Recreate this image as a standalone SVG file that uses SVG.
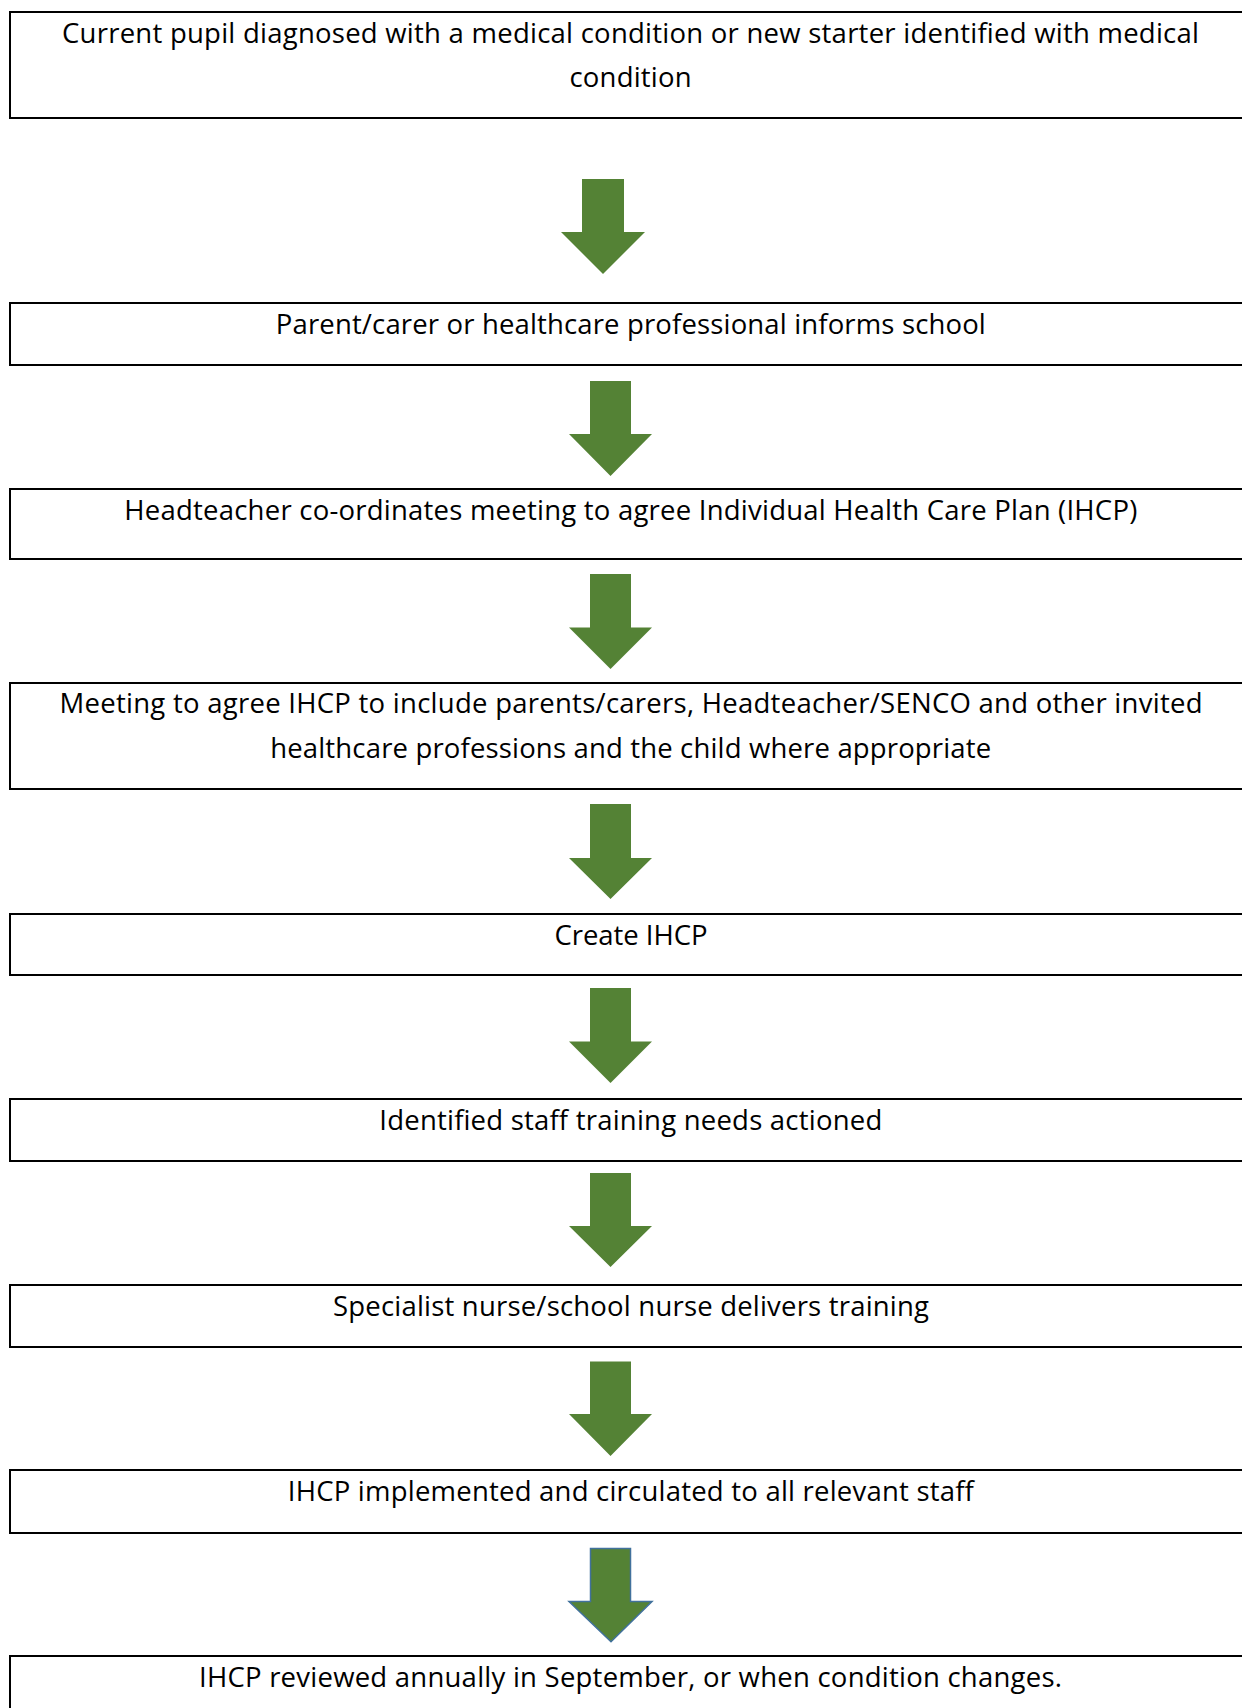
<svg xmlns="http://www.w3.org/2000/svg" width="1242" height="1708" viewBox="0 0 1242 1708">
<style>
.box{fill:#ffffff;stroke:#000000;stroke-width:2}
.t{font-family:"Open Sans","Noto Sans","Liberation Sans",sans-serif;font-size:27.5px;fill:#000000;text-anchor:middle}
.arr{fill:#548235;stroke:none}
.arr2{fill:#548235;stroke:#41719C;stroke-width:1.5;stroke-linejoin:miter}
</style>
<rect x="0" y="0" width="1242" height="1708" fill="#ffffff"/>
<g id="connectors">
<polygon class="arr" points="582,179 624,179 624,232 645,232 603,274 561,232 582,232"/>
<polygon class="arr" points="590,381 631,381 631,434 652,434 610.5,476 569,434 590,434"/>
<polygon class="arr" points="590,574 631,574 631,627.5 652,627.5 610.5,669 569,627.5 590,627.5"/>
<polygon class="arr" points="590,804 631,804 631,858 652,858 610.5,899 569,858 590,858"/>
<polygon class="arr" points="590,988 631,988 631,1041.5 652,1041.5 610.5,1083 569,1041.5 590,1041.5"/>
<polygon class="arr" points="590,1173 631,1173 631,1226 652,1226 610.5,1267 569,1226 590,1226"/>
<polygon class="arr" points="590,1361.5 631,1361.5 631,1414 652,1414 610.5,1456 569,1414 590,1414"/>
<polygon class="arr2" points="590.5,1548.5 630.5,1548.5 630.5,1601.5 652,1601.5 611,1641.7 569,1601.5 590.5,1601.5"/>
</g>
<g id="n1"><rect class="box" x="10" y="12" width="1240" height="106"/>
<text class="t" x="630.5" y="42.5" textLength="1137">Current pupil diagnosed with a medical condition or new starter identified with medical</text>
<text class="t" x="630.5" y="87" textLength="122">condition</text></g>
<g id="n2"><rect class="box" x="10" y="303" width="1240" height="62"/>
<text class="t" x="630.8" y="333.5" textLength="710">Parent/carer or healthcare professional informs school</text></g>
<g id="n3"><rect class="box" x="10" y="489" width="1240" height="70"/>
<text class="t" x="630.8" y="519.5" textLength="1013">Headteacher co-ordinates meeting to agree Individual Health Care Plan (IHCP)</text></g>
<g id="n4"><rect class="box" x="10" y="683" width="1240" height="106"/>
<text class="t" x="631" y="713" textLength="1143">Meeting to agree IHCP to include parents/carers, Headteacher/SENCO and other invited</text>
<text class="t" x="630.7" y="758" textLength="721">healthcare professions and the child where appropriate</text></g>
<g id="n5"><rect class="box" x="10" y="914" width="1240" height="61"/>
<text class="t" x="631" y="944.5" textLength="153">Create IHCP</text></g>
<g id="n6"><rect class="box" x="10" y="1099" width="1240" height="62"/>
<text class="t" x="630.8" y="1130" textLength="503">Identified staff training needs actioned</text></g>
<g id="n7"><rect class="box" x="10" y="1285" width="1240" height="62"/>
<text class="t" x="631" y="1315.5" textLength="596">Specialist nurse/school nurse delivers training</text></g>
<g id="n8"><rect class="box" x="10" y="1470" width="1240" height="63"/>
<text class="t" x="630.8" y="1500.5" textLength="686">IHCP implemented and circulated to all relevant staff</text></g>
<g id="n9"><rect class="box" x="10" y="1656" width="1240" height="70"/>
<text class="t" x="630.5" y="1686.5" textLength="863">IHCP reviewed annually in September, or when condition changes.</text></g>
</svg>
